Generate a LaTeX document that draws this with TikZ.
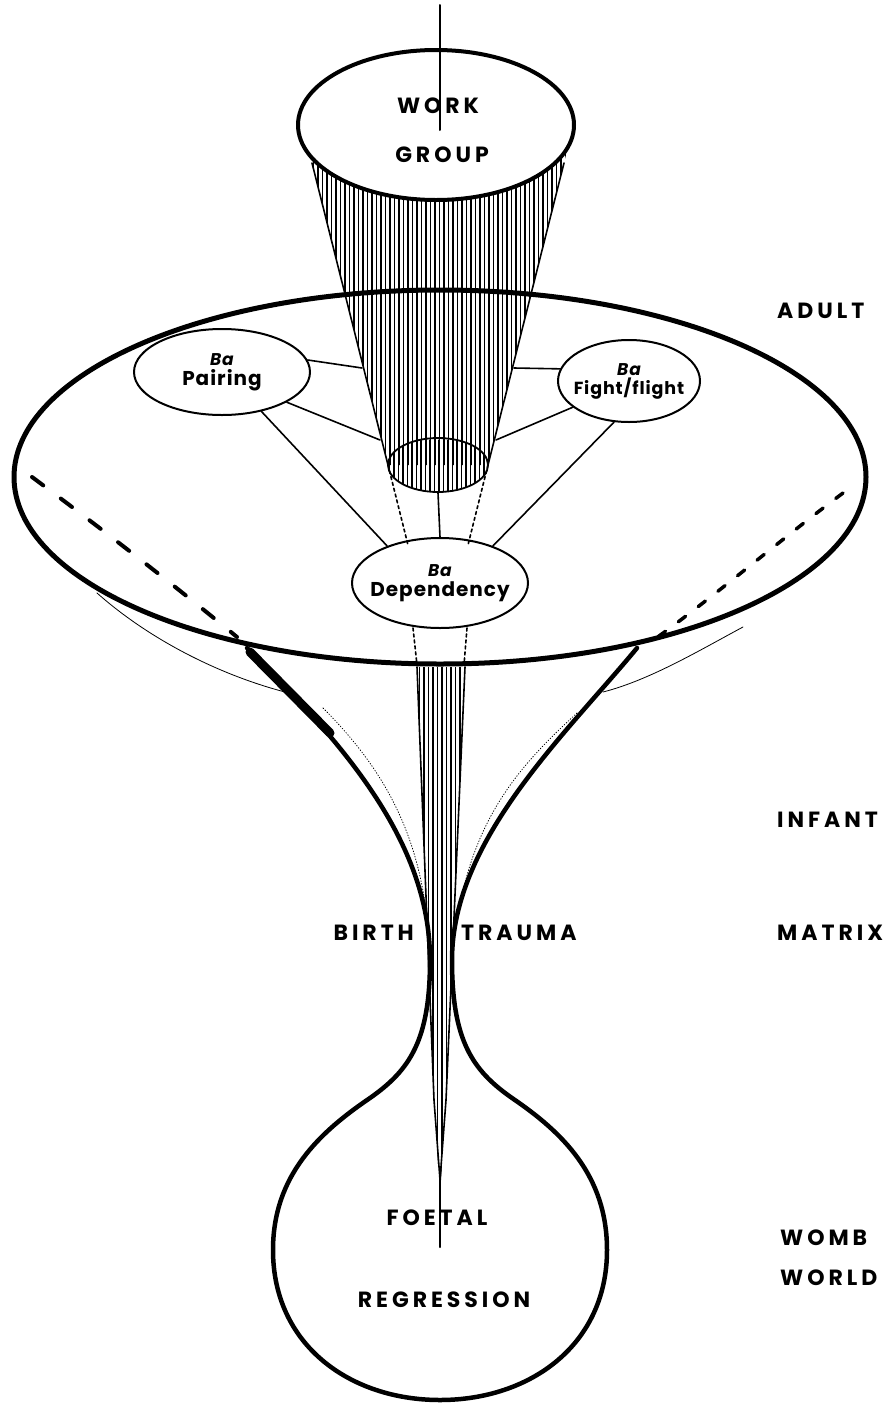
\documentclass[tikz,border=0pt]{standalone}
\usepackage{fontspec}
\setmainfont{Poppins}
\newfontfamily\spacedfont[LetterSpace=18]{Poppins}
\newfontfamily\bafont[LetterSpace=5]{Poppins}
\usetikzlibrary{shapes.geometric}

\tikzset{
  rim/.style={line width=4.5pt},
  hatch/.style={line width=1.1pt},
  link/.style={line width=1.6pt},
  ghost/.style={line width=0.8pt},
  baoval/.style={ellipse, draw, line width=2pt, inner sep=-20pt, align=center,
    font=\bafont\bfseries\fontsize{20}{20}\selectfont},
  caps/.style={inner sep=0pt, font=\spacedfont\bfseries\fontsize{22}{24}\selectfont},
}
\newcommand{\ba}{{\itshape\fontsize{17}{17}\selectfont Ba}}

\begin{document}
\begin{tikzpicture}[x=1pt, y=-1pt, line join=round, line cap=round]
  \useasboundingbox (0,0) rectangle (891,1403);

  % --- funnel down to the womb ---
  \draw[rim] (247,648) .. controls (340,740) and (430,840) .. (430,960)
    .. controls (430,1040) and (410,1070) .. (370,1098)
    .. controls (320,1132) and (273,1175) .. (273,1250)
    .. controls (273,1345) and (350,1400) .. (440,1400)
    .. controls (530,1400) and (607,1345) .. (607,1250)
    .. controls (607,1175) and (562,1132) .. (512,1098)
    .. controls (472,1070) and (452,1040) .. (452,960)
    .. controls (452,840) and (565,735) .. (637,648);
  \draw[line width=9pt] (250,652) -- (330,733);
  % thin traces beside the funnel
  \draw[ghost] (97,593) .. controls (150,640) and (220,675) .. (285,692);
  \draw[ghost] (743,627) .. controls (700,650) and (650,680) .. (603,692);
  \draw[ghost, dotted] (323,708) .. controls (380,765) and (420,830) .. (428,930);
  \draw[ghost, dotted] (577,713) .. controls (520,765) and (470,820) .. (456,930);

  % hidden rim of the adult plate
  \draw[line width=4pt, dash pattern=on 14pt off 22pt] (32,477) .. controls (110,535) and (180,590) .. (237,637);
  \draw[line width=3.5pt, dash pattern=on 9pt off 16pt] (843,493) .. controls (780,540) and (710,600) .. (652,641);

  % --- hatched cone ---
  \begin{scope}
    \clip (300,115) -- (576,115) -- (488,465) -- (388,465) -- cycle;
    \foreach \x in {300,304.5,...,578} \draw[hatch] (\x,100) -- (\x,470);
  \end{scope}
  \begin{scope}
    \clip (438,465) ellipse [x radius=50, y radius=27];
    \foreach \x in {385,389.5,...,492} \draw[hatch] (\x,440) -- (\x,495);
  \end{scope}
  \draw[link] (312,163) -- (388,465);
  \draw[link] (564,163) -- (488,465);
  \node[ellipse, draw, line width=1.8pt, minimum width=100pt, minimum height=54pt] (base) at (438,465) {};
  \draw[link, dashed] (388,465) -- (408,545);
  \draw[link, dashed] (488,465) -- (468,545);

  % --- work group ---
  \filldraw[fill=white, line width=4pt] (436,125) ellipse [x radius=138, y radius=75];
  \draw[line width=2pt] (440,5) -- (440,130);
  \node[caps] (work) at (438,106) {WORK};
  \node[caps] (group) at (442,155) {GROUP};

  % --- adult plate ---
  \draw[line width=5pt] (440,477) ellipse [x radius=426, y radius=187];

  % --- spike ---
  \begin{scope}
    \clip (417,667) -- (465,667) -- (446,1100) -- (441,1180) -- (439,1180) -- (434,1100) -- cycle;
    \foreach \x in {415,419.5,...,468} \draw[hatch] (\x,660) -- (\x,1185);
  \end{scope}
  \draw[link] (417,667) -- (434,1100) -- (440,1180) -- (446,1100) -- (465,667);
  \draw[line width=2pt] (440,1180) -- (440,1247);

  % --- basic assumption groups ---
  \node[baoval, minimum width=176pt, minimum height=86pt] (pairing) at (222,372) {\ba\\Pairing};
  \node[baoval, minimum width=142pt, minimum height=82pt,
    font=\bafont\bfseries\fontsize{17.5}{19}\selectfont] (fight) at (629,381) {\ba\\Fight/flight};
  \node[baoval, minimum width=176pt, minimum height=90pt] (depend) at (440,583) {\ba\\Dependency};

  \coordinate (pl1) at (362,368);
  \coordinate (pl2) at (380,440);
  \coordinate (fl1) at (514,368);
  \coordinate (fl2) at (496,440);
  \draw[link] (pairing.8) -- (pl1);
  \draw[link] (pairing.-25) -- (pl2);
  \draw[link] (pairing.-45) -- (depend.145);
  \draw[link] (fight.170) -- (fl1);
  \draw[link] (fight.205) -- (fl2);
  \draw[link] (fight.250) -- (depend.35);
  \draw[link] (base.south) -- (depend.north);
  \draw[link, dashed] (413,628) -- (417,665);
  \draw[link, dashed] (467,628) -- (464,665);

  % --- labels ---
  \node[caps, anchor=west] (adult) at (777,311) {ADULT};
  \node[caps, anchor=west] (infant) at (777,820) {INFANT};
  \node[caps, anchor=west] (matrix) at (777,933) {MATRIX};
  \node[caps, anchor=west] (womb) at (780,1238) {WOMB};
  \node[caps, anchor=west] (world) at (780,1278) {WORLD};
  \node[caps, anchor=east] (birth) at (414,933) {BIRTH};
  \node[caps, anchor=west] (trauma) at (461,933) {TRAUMA};
  \node[caps] (foetal) at (437,1218) {FOETAL};
  \node[caps] (regress) at (444,1300) {REGRESSION};
\end{tikzpicture}
\end{document}
